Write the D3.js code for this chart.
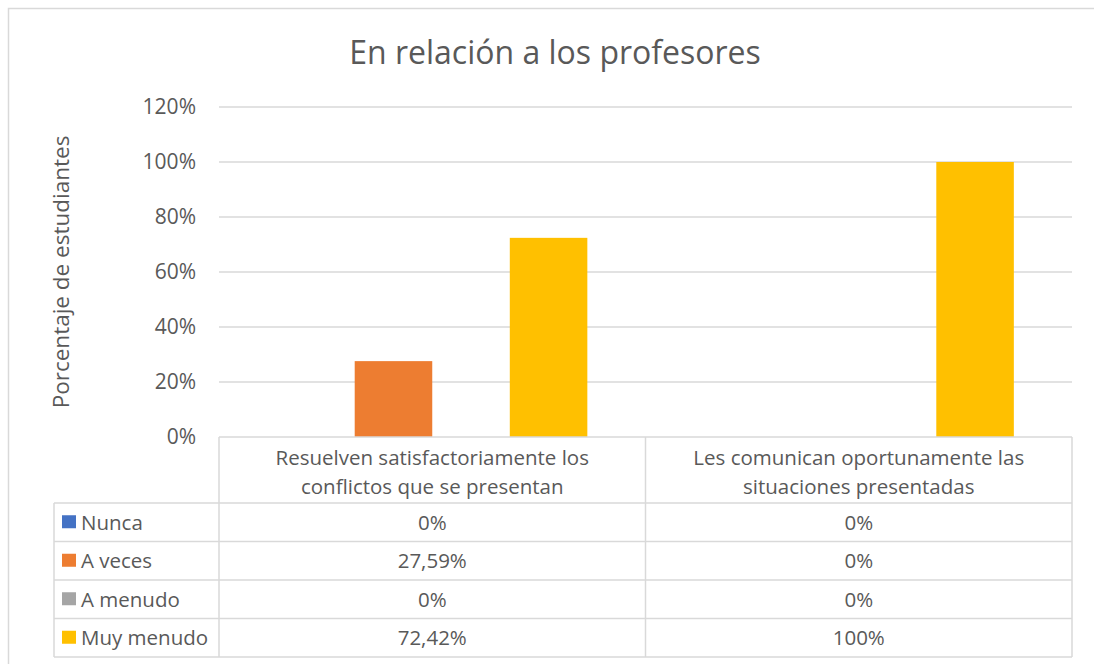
<!DOCTYPE html>
<html>
<head>
<meta charset="utf-8">
<script src="https://cdn.jsdelivr.net/npm/d3@7"></script>
<style>
  body { margin: 0; background: #fff; }
  text { font-family: "Open Sans", sans-serif; fill: #595959; }
</style>
</head>
<body>
<svg id="chart" width="1094" height="664"></svg>
<script>
const categories = ['Resuelven satisfactoriamente los conflictos que se presentan', 'Les comunican oportunamente las situaciones presentadas']
const categoryLines = [
  ['Resuelven satisfactoriamente los', 'conflictos que se presentan'],
  ['Les comunican oportunamente las', 'situaciones presentadas']
]
const seriesNames = ['Nunca', 'A veces', 'A menudo', 'Muy menudo']
const seriesColors = ['#4472C4', '#ED7D31', '#A5A5A5', '#FFC000']
const nunca = [0, 0]
const aVeces = [0.2759, 0]
const aMenudo = [0, 0]
const muyMenudo = [0.7242, 1]
const yTicks = [0, 0.2, 0.4, 0.6, 0.8, 1.0, 1.2]

const seriesValues = [nunca, aVeces, aMenudo, muyMenudo]

const svg = d3.select('#chart')
const gridColor = '#D9D9D9'

const plot = { left: 219, right: 1072, top: 107, bottom: 437 }
const tableLeft = 54
const headerH = 66
const rowH = 38.5
const tableFont = '20.5px'

const esLocale = d3.formatLocale({ decimal: ',', thousands: '.', grouping: [3], currency: ['', ' €'] })
const tableFormat = esLocale.format('~%')
const tickFormat = d3.format('.0%')

// outer chart border (runs off the right/bottom of the picture)
svg.append('rect')
  .attr('x', 8.5).attr('y', 8.5)
  .attr('width', 1200).attr('height', 800)
  .attr('fill', 'none')
  .attr('stroke', gridColor)
  .attr('stroke-width', 1.5)

const x0 = d3.scaleBand()
  .domain(categories)
  .range([plot.left, plot.right])
  .padding(0)

const x1 = d3.scaleBand()
  .domain(seriesNames)
  .range([0, x0.bandwidth()])
  .paddingInner(0)
  .paddingOuter(0.75)

const y = d3.scaleLinear()
  .domain([0, 1.2])
  .range([plot.bottom, plot.top])

// title
svg.append('text')
  .attr('x', 555)
  .attr('y', 64)
  .attr('text-anchor', 'middle')
  .style('font-size', '32px')
  .text('En relación a los profesores')

// y axis title
svg.append('text')
  .attr('transform', `translate(69,${(plot.top + plot.bottom) / 2}) rotate(-90)`)
  .attr('text-anchor', 'middle')
  .style('font-size', '22.5px')
  .text('Porcentaje de estudiantes')

// gridlines
svg.append('g')
  .selectAll('line')
  .data(yTicks.filter(d => d > 0))
  .enter()
  .append('line')
  .attr('x1', plot.left)
  .attr('x2', plot.right)
  .attr('y1', d => y(d))
  .attr('y2', d => y(d))
  .attr('stroke', gridColor)
  .attr('stroke-width', 1.5)

// y axis labels
const yAxis = d3.axisLeft(y).tickValues(yTicks).tickFormat(tickFormat).tickSize(0).tickPadding(0)
const yAxisG = svg.append('g')
  .attr('transform', 'translate(196,0)')
  .call(yAxis)
yAxisG.select('.domain').remove()
yAxisG.selectAll('text')
  .style('font-family', '"Open Sans", sans-serif')
  .style('font-size', '21px')
  .attr('fill', '#595959')

// bars
const groups = svg.append('g')
  .selectAll('g')
  .data(categories)
  .enter()
  .append('g')
  .attr('transform', d => `translate(${x0(d)},0)`)

groups.selectAll('rect')
  .data((d, ci) => seriesNames.map((s, si) => ({ series: s, value: seriesValues[si][ci], color: seriesColors[si] })))
  .enter()
  .append('rect')
  .attr('x', d => x1(d.series))
  .attr('width', x1.bandwidth())
  .attr('y', d => y(d.value))
  .attr('height', d => y(0) - y(d.value))
  .attr('fill', d => d.color)

// data table
const table = svg.append('g')
const rowsTop = plot.bottom + headerH
const tableBottom = rowsTop + rowH * seriesNames.length
const lineStyle = sel => sel.attr('stroke', gridColor).attr('stroke-width', 1.5).attr('fill', 'none')

// horizontal lines
table.append('line').attr('x1', plot.left).attr('x2', plot.right).attr('y1', plot.bottom).attr('y2', plot.bottom).call(lineStyle)
d3.range(seriesNames.length + 1).forEach(i => {
  const yy = rowsTop + i * rowH
  table.append('line').attr('x1', tableLeft).attr('x2', plot.right).attr('y1', yy).attr('y2', yy).call(lineStyle)
})
// vertical lines
table.append('line').attr('x1', tableLeft).attr('x2', tableLeft).attr('y1', rowsTop).attr('y2', tableBottom).call(lineStyle)
categories.forEach(c => {
  table.append('line').attr('x1', x0(c)).attr('x2', x0(c)).attr('y1', plot.bottom).attr('y2', tableBottom).call(lineStyle)
})
table.append('line').attr('x1', plot.right).attr('x2', plot.right).attr('y1', plot.bottom).attr('y2', tableBottom).call(lineStyle)

// header text
categories.forEach((c, ci) => {
  const t = table.append('text')
    .attr('text-anchor', 'middle')
    .style('font-size', tableFont)
  categoryLines[ci].forEach((line, li) => {
    t.append('tspan')
      .attr('x', x0(c) + x0.bandwidth() / 2)
      .attr('y', plot.bottom + 28 + li * 29)
      .text(line)
  })
})

// rows
seriesNames.forEach((s, si) => {
  const cy = rowsTop + si * rowH + rowH / 2
  table.append('rect')
    .attr('x', 62).attr('y', cy - 7)
    .attr('width', 14).attr('height', 13)
    .attr('fill', seriesColors[si])
  table.append('text')
    .attr('x', 81)
    .attr('y', cy)
    .attr('dy', '0.36em')
    .style('font-size', tableFont)
    .text(s)
  categories.forEach((c, ci) => {
    table.append('text')
      .attr('x', x0(c) + x0.bandwidth() / 2)
      .attr('y', cy)
      .attr('dy', '0.36em')
      .attr('text-anchor', 'middle')
      .style('font-size', tableFont)
      .text(tableFormat(seriesValues[si][ci]))
  })
})
</script>
</body>
</html>
